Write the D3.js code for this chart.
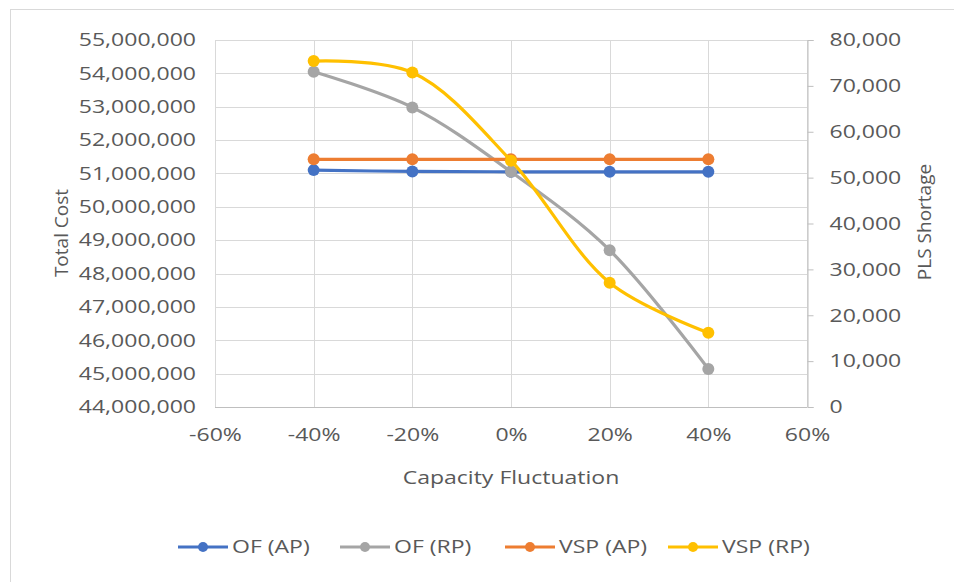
<!DOCTYPE html>
<html><head><meta charset="utf-8">
<script src="https://cdn.jsdelivr.net/npm/d3@7"></script>
<style>body{margin:0;background:#fff}svg{display:block}text{font-family:"Open Sans",sans-serif;fill:#595959}</style>
</head><body><svg id="c" width="954" height="582"></svg>
<script>
const xValues = [-0.4, -0.2, 0, 0.2, 0.4];
const xTicks = [-0.6, -0.4, -0.2, 0, 0.2, 0.4, 0.6];
const leftTicks = [44e6,45e6,46e6,47e6,48e6,49e6,50e6,51e6,52e6,53e6,54e6,55e6];
const rightTicks = [0,10000,20000,30000,40000,50000,60000,70000,80000];
const seriesNames = ["OF (AP)", "OF (RP)", "VSP (AP)", "VSP (RP)"];
const seriesColors = ["#4472C4", "#A5A5A5", "#ED7D31", "#FFC000"];
const seriesAxis = ["left", "left", "right", "right"];
const ofAP = [51100000, 51060000, 51050000, 51050000, 51050000];
const ofRP = [54050000, 52980000, 51050000, 48700000, 45140000];
const vspAP = [54000, 54000, 54000, 54000, 54000];
const vspRP = [75400, 72900, 53700, 27100, 16200];
const seriesValues = [ofAP, ofRP, vspAP, vspRP];

const K = 1.28; // horizontal stretch of text
function stretch(sel){
  sel.each(function(){
    const t = d3.select(this);
    const x0 = +(t.attr("x")||0);
    const prev = t.attr("transform")||"";
    t.attr("transform", prev + ` translate(${x0*(1-K)},0) scale(${K},1)`);
  });
}

const svg = d3.select("#c");
const L = 215, R = 807, T = 40, B = 407;
svg.append("rect").attr("x",10.5).attr("y",9.5).attr("width",960).attr("height",600)
  .attr("fill","#fff").attr("stroke","#d9d9d9");

const x = d3.scaleLinear().domain([-0.6,0.6]).range([L,R]);
const yL = d3.scaleLinear().domain([44e6,55e6]).range([B,T]);
const yR = d3.scaleLinear().domain([0,80000]).range([B,T]);

svg.append("g").selectAll("line").data(leftTicks).join("line")
  .attr("x1",L).attr("x2",R).attr("y1",d=>Math.round(yL(d))+0.5).attr("y2",d=>Math.round(yL(d))+0.5)
  .attr("stroke","#d9d9d9");
svg.append("g").selectAll("line").data(xTicks).join("line")
  .attr("y1",T).attr("y2",B).attr("x1",d=>Math.round(x(d))+0.5).attr("x2",d=>Math.round(x(d))+0.5)
  .attr("stroke","#d9d9d9");
svg.append("line").attr("x1",L).attr("x2",R).attr("y1",Math.round(B)+0.5).attr("y2",Math.round(B)+0.5).attr("stroke","#bfbfbf");
const gR = svg.append("g").attr("transform",`translate(${Math.round(R)+0.5},0)`)
  .call(d3.axisRight(yR).tickValues(rightTicks).tickSize(6).tickPadding(16).tickFormat(d3.format(",")));
gR.select(".domain").attr("stroke","#bfbfbf");
gR.selectAll(".tick line").attr("stroke","#bfbfbf");
gR.selectAll("text").attr("font-size",18).attr("fill","#595959").attr("font-family","Open Sans").call(stretch);

const gL = svg.append("g").attr("transform",`translate(${L},0)`)
  .call(d3.axisLeft(yL).tickValues(leftTicks).tickSize(0).tickPadding(19).tickFormat(d3.format(",")));
gL.select(".domain").remove();
gL.selectAll("text").attr("font-size",18).attr("fill","#595959").attr("font-family","Open Sans").call(stretch);

const gX = svg.append("g").attr("transform",`translate(0,${B})`)
  .call(d3.axisBottom(x).tickValues(xTicks).tickSize(0).tickPadding(21).tickFormat(d=>Math.round(d*100)+"%"));
gX.select(".domain").remove();
gX.selectAll("text").attr("font-size",18).attr("fill","#595959").attr("font-family","Open Sans").call(stretch);

svg.append("text").attr("x",(L+R)/2).attr("y",484).attr("text-anchor","middle").attr("font-size",18).text("Capacity Fluctuation").call(stretch);
svg.append("text").attr("transform","translate(68,233) rotate(-90)").attr("text-anchor","middle").attr("font-size",19).text("Total Cost");
svg.append("text").attr("transform","translate(931,222) rotate(-90)").attr("text-anchor","middle").attr("font-size",19).text("PLS Shortage");

seriesValues.forEach((vals,i)=>{
  const y = seriesAxis[i]==="left" ? yL : yR;
  const line = d3.line().x((d,j)=>x(xValues[j])).y(d=>y(d)).curve(d3.curveCatmullRom.alpha(0.5));
  svg.append("path").datum(vals).attr("d",line).attr("fill","none")
    .attr("stroke",seriesColors[i]).attr("stroke-width",3.2).attr("stroke-linecap","round");
  svg.append("g").selectAll("circle").data(vals).join("circle")
    .attr("cx",(d,j)=>x(xValues[j])).attr("cy",d=>y(d)).attr("r",6).attr("fill",seriesColors[i]);
});

const legX = [178, 340, 505, 668];
const lg = svg.append("g");
seriesNames.forEach((n,i)=>{
  const g = lg.append("g").attr("transform",`translate(${legX[i]},547)`);
  g.append("line").attr("x1",0).attr("x2",50).attr("stroke",seriesColors[i]).attr("stroke-width",3.2);
  g.append("circle").attr("cx",25).attr("r",5).attr("fill",seriesColors[i]);
  g.append("text").attr("x",54).attr("y",6).attr("font-size",18).text(n).call(stretch);
});
</script></body></html>
